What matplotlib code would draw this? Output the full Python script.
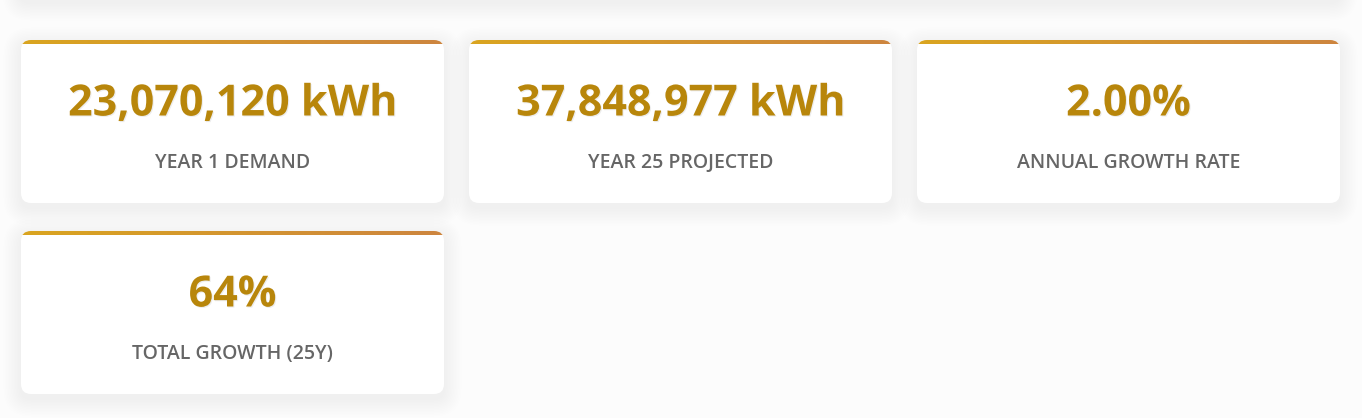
import numpy as np
import matplotlib
matplotlib.use('Agg')
import matplotlib.pyplot as plt
from matplotlib.patches import FancyBboxPatch
import matplotlib.patheffects as pe

plt.rcParams['font.family'] = ['Open Sans', 'DejaVu Sans']

values = ['23,070,120 kWh', '37,848,977 kWh', '2.00%', '64%']
labels = ['YEAR 1 DEMAND', 'YEAR 25 PROJECTED', 'ANNUAL GROWTH RATE',
          'TOTAL GROWTH (25Y)']

W, H = 1362, 418
BG = '#fcfcfc'
VALUE_COLOR = '#b8860b'
LABEL_COLOR = '#666666'
BAR_LEFT = np.array([218, 165, 32]) / 255
BAR_RIGHT = np.array([205, 133, 63]) / 255

card_w, card_h = 423, 163
col_x = [21, 469, 917]
row_y = [40, 231]
radius = 10


fig = plt.figure(figsize=(W / 100, H / 100), dpi=100, facecolor=BG)
ax = fig.add_axes([0, 0, 1, 1])
ax.set_xlim(0, W)
ax.set_ylim(H, 0)
ax.axis('off')
ax.set_facecolor(BG)


def shadow(x, y, w, h):
    # soft drop shadow made from stacked translucent boxes
    for k in range(12):
        grow = 2 + k * 3.0
        ax.add_patch(FancyBboxPatch(
            (x - grow / 2, y + 5 - grow / 2), w + grow, h + grow,
            boxstyle=f'round,pad=0,rounding_size={radius + grow / 2}',
            fc='black', ec='none', alpha=0.0045, zorder=1))


def card(x, y, value, label):
    shadow(x, y, card_w, card_h)
    body = FancyBboxPatch((x, y), card_w, card_h,
                          boxstyle=f'round,pad=0,rounding_size={radius}',
                          fc='white', ec='none', zorder=2)
    ax.add_patch(body)
    grad = np.linspace(0, 1, 256)[None, :, None]
    img = BAR_LEFT * (1 - grad) + BAR_RIGHT * grad
    im = ax.imshow(img, extent=(x, x + card_w, y + 4.5, y), aspect='auto',
                   zorder=3, interpolation='bilinear')
    im.set_clip_path(body)
    cx = x + card_w / 2
    ax.text(cx, y + 64, value, ha='center', va='center', fontsize=31,
            fontweight='bold', color=VALUE_COLOR, zorder=4,
            path_effects=[pe.withSimplePatchShadow(offset=(0.8, -0.8),
                                                  shadow_rgbFace='#000000',
                                                  alpha=0.07)])
    ax.text(cx, y + 123, label, ha='center', va='center', fontsize=14,
            fontweight='semibold', color=LABEL_COLOR, zorder=4)


# bottom edge of the card block above, cut off by the frame
shadow(20, -150, 1320, 148)
ax.add_patch(FancyBboxPatch((20, -150), 1320, 148,
                            boxstyle=f'round,pad=0,rounding_size={radius}',
                            fc='white', ec='none', zorder=2))

for i, (v, l) in enumerate(zip(values, labels)):
    card(col_x[i % 3], row_y[i // 3], v, l)

fig.savefig('out.png', dpi=100, facecolor=BG)
